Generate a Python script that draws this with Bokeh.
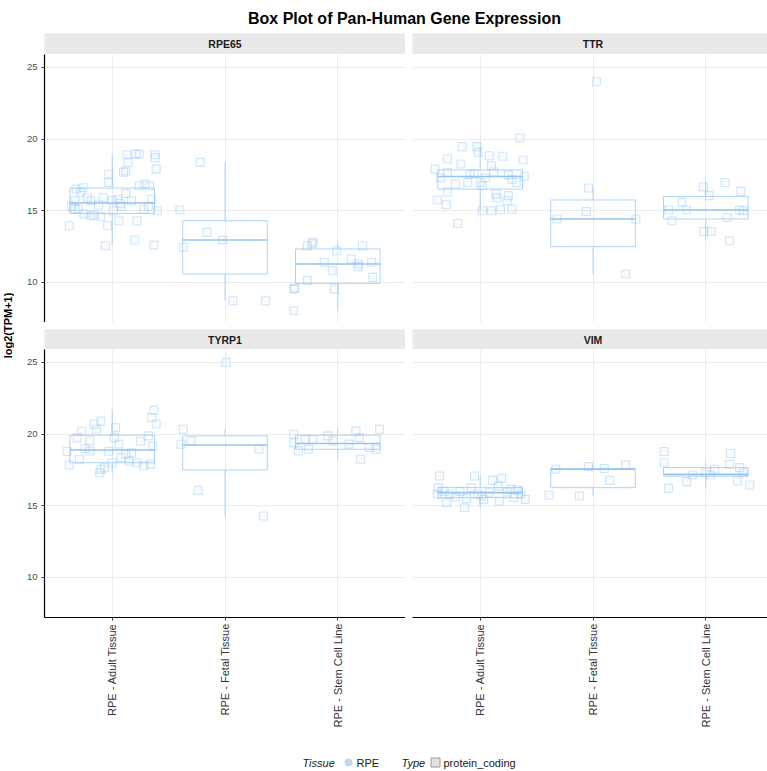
import numpy as np
from bokeh.plotting import figure
from bokeh.layouts import column, row
from bokeh.models import Range1d, LinearAxis, Grid, FixedTicker, Spacer, ColumnDataSource
from bokeh.embed import file_html
from bokeh.resources import INLINE
from bokeh.core.properties import value

# ---------------- data ----------------
title_text = "Box Plot of Pan-Human Gene Expression"
y_label = "log2(TPM+1)"
genes = ["RPE65", "TTR", "TYRP1", "VIM"]
tissues = ["RPE - Adult Tissue", "RPE - Fetal Tissue", "RPE - Stem Cell Line"]
y_ticks = [10, 15, 20, 25]
legend_tissue = ["Tissue", "RPE"]
legend_type = ["Type", "protein_coding"]

# box statistics per gene, order = tissues
RPE65_q1 = [14.81, 10.58, 9.93]
RPE65_med = [15.54, 12.96, 11.28]
RPE65_q3 = [16.58, 14.30, 12.33]
RPE65_lo = [12.60, 8.72, 8.02]
RPE65_hi = [18.95, 18.37, 12.80]

TTR_q1 = [16.51, 12.49, 14.42]
TTR_med = [17.39, 14.42, 15.05]
TTR_q3 = [17.84, 15.75, 16.00]
TTR_lo = [15.00, 10.58, 12.90]
TTR_hi = [19.47, 16.58, 16.97]

TYRP1_q1 = [18.00, 17.49, 18.94]
TYRP1_med = [18.89, 19.24, 19.34]
TYRP1_q3 = [19.92, 19.87, 19.92]
TYRP1_lo = [17.30, 14.28, 18.24]
TYRP1_hi = [21.70, 20.34, 20.34]

VIM_q1 = [15.56, 16.26, 17.07]
VIM_med = [15.91, 17.54, 17.19]
VIM_q3 = [16.26, 17.59, 17.66]
VIM_lo = [14.86, 15.68, 16.21]
VIM_hi = [17.07, 17.84, 18.00]

# individual samples (value) and their horizontal jitter
RPE65_adult = [13.95, 16.51, 15.70, 15.12, 15.10, 15.30, 14.77, 15.70, 14.70, 14.60, 12.56, 13.95,
               17.56, 16.97, 15.70, 15.00, 15.80, 14.30, 15.30, 17.68, 18.37, 18.90, 18.95, 15.70,
               12.96, 14.30, 16.74, 15.30, 16.74, 15.80, 12.60, 18.90, 17.90, 18.70, 15.00, 15.90,
               15.40, 16.20, 15.10, 16.30, 15.50, 15.90, 18.95, 17.77, 16.86, 16.60, 14.65]
RPE65_adult_jit = [-0.38, -0.32, -0.33, -0.33, -0.30, -0.36, -0.25, -0.19, -0.16, -0.10, -0.06, -0.04,
                   -0.03, -0.03, 0.00, 0.01, 0.05, 0.06, 0.08, 0.10, 0.14, 0.13, 0.21, 0.17,
                   0.20, 0.22, 0.24, 0.32, 0.33, 0.35, 0.37, 0.38, 0.39, 0.38, 0.40, -0.22,
                   -0.12, 0.12, 0.28, -0.28, 0.07, -0.08, 0.24, 0.12, 0.29, -0.26, -0.19]
RPE65_fetal = [18.37, 15.05, 13.49, 12.96, 12.44, 8.72, 8.72]
RPE65_fetal_jit = [-0.22, -0.40, -0.16, -0.02, -0.37, 0.07, 0.36]
RPE65_stem = [8.02, 9.53, 9.60, 10.12, 12.56, 12.70, 12.80, 11.40, 10.81, 9.53, 12.21, 11.63,
              11.28, 12.56, 11.40, 10.35, 11.10]
RPE65_stem_jit = [-0.39, -0.39, -0.38, -0.27, -0.27, -0.23, -0.22, -0.12, -0.05, -0.03, -0.01, 0.12,
                  0.18, 0.22, 0.30, 0.31, 0.18]

TTR_adult = [20.07, 19.47, 19.47, 19.07, 18.84, 18.80, 18.61, 18.26, 18.54, 17.90, 18.14, 17.67,
             17.56, 16.97, 16.74, 16.86, 16.16, 15.90, 15.75, 15.42, 16.30, 15.00, 15.00, 15.05,
             14.11, 16.97, 17.40, 16.97, 17.30, 17.60, 17.50, 17.30, 17.70, 17.20, 16.05, 15.70, 15.12]
TTR_adult_jit = [0.35, -0.16, -0.03, -0.02, 0.08, 0.20, -0.29, -0.17, 0.38, -0.40, 0.10, -0.29,
                 -0.09, 0.00, 0.02, -0.22, 0.14, 0.15, -0.38, -0.30, -0.29, 0.02, 0.10, 0.18,
                 -0.20, 0.32, 0.39, -0.11, 0.05, -0.05, 0.25, -0.35, 0.12, 0.28, 0.25, 0.24, 0.28]
TTR_fetal = [24.00, 16.58, 14.95, 14.42, 14.42, 10.58]
TTR_fetal_jit = [0.03, -0.04, -0.06, -0.32, 0.38, 0.29]
TTR_stem = [16.97, 16.67, 16.05, 16.35, 15.05, 15.58, 15.05, 14.30, 14.53, 15.05, 15.00, 13.55,
            13.55, 12.90]
TTR_stem_jit = [0.17, -0.02, 0.03, 0.31, -0.33, -0.21, -0.17, -0.30, 0.19, 0.30, 0.33, -0.02,
                0.05, 0.21]

TYRP1_adult = [21.67, 21.15, 20.70, 20.69, 20.34, 20.20, 20.45, 17.85, 17.54, 17.30, 17.65, 18.78,
               18.82, 18.36, 18.60, 18.00, 17.77, 17.90, 19.17, 19.87, 19.75, 18.80, 19.52, 19.75,
               19.30, 18.70, 18.24, 18.00, 20.90, 19.50, 19.00, 18.10]
TYRP1_adult_jit = [0.37, 0.35, 0.39, -0.16, -0.14, -0.27, 0.03, -0.38, -0.10, -0.11, -0.07, -0.40,
                   -0.20, 0.08, 0.12, 0.22, 0.28, 0.34, 0.36, 0.32, 0.02, -0.03, -0.20, -0.31,
                   0.06, 0.17, -0.29, 0.00, -0.10, 0.25, -0.24, 0.15]
TYRP1_fetal = [25.00, 20.34, 19.29, 19.52, 16.07, 18.94, 14.28]
TYRP1_fetal_jit = [0.01, -0.37, -0.39, -0.30, -0.24, 0.30, 0.34]
TYRP1_stem = [19.99, 19.40, 18.82, 18.94, 19.64, 19.60, 19.87, 19.52, 20.22, 19.75, 18.24, 19.06,
              18.94, 20.34, 19.30]
TYRP1_stem_jit = [-0.39, -0.39, -0.35, -0.26, -0.29, -0.22, -0.09, -0.04, 0.16, 0.19, 0.20, 0.28,
                  0.34, 0.37, 0.10]

VIM_adult = [17.07, 17.07, 16.77, 16.91, 14.86, 16.26, 15.80, 16.26, 16.37, 16.14, 15.80, 15.44,
             15.68, 15.44, 15.33, 15.21, 16.00, 15.80, 15.56, 15.60, 15.90, 15.50, 15.95, 16.00,
             16.10, 15.80]
VIM_adult_jit = [-0.36, -0.05, 0.11, 0.19, -0.14, -0.37, -0.27, -0.08, 0.16, 0.27, 0.36, 0.40,
                 0.01, 0.03, 0.17, -0.30, -0.18, -0.38, 0.30, -0.22, 0.08, -0.12, 0.24, -0.32,
                 0.33, -0.02]
VIM_fetal = [17.54, 17.73, 17.84, 16.77, 15.75, 15.68, 17.60]
VIM_fetal_jit = [-0.33, -0.04, 0.29, 0.15, -0.39, -0.12, 0.10]
VIM_stem = [18.78, 18.00, 18.64, 17.89, 17.66, 16.68, 16.21, 16.72, 16.45, 17.14, 17.30, 17.14,
            17.54, 17.30]
VIM_stem_jit = [-0.37, -0.37, 0.22, 0.21, 0.30, -0.17, -0.33, 0.28, 0.39, 0.04, 0.00, -0.12,
                0.08, 0.33]

# ---------------- style / layout ----------------
FONT = "Liberation Sans"
PW_L, PW_R, PH = 361, 355, 268   # panel frame sizes
UNIT = PW_L / 3.2                # pixels per category unit
LB = 30                          # left axis border
BB = 118                         # bottom axis border
GAP = 7
STRIP_H = [21, 20]
YLAB_W = 14
TOTAL_W = YLAB_W + LB + PW_L + GAP + PW_R
YMIN, YMAX = 7.2, 25.9
GRID = "#ebebeb"
STRIP_BG = "#e9e9e9"
BOX = "#aed3f6"
MED = "#94c5f1"
PT = "#8ec4f5"


def base_fig(**kw):
    kw.setdefault("toolbar_location", None)
    kw.setdefault("output_backend", "svg")
    kw.setdefault("x_axis_location", None)
    kw.setdefault("y_axis_location", None)
    kw.setdefault("outline_line_color", None)
    kw.setdefault("min_border", 0)
    p = figure(**kw)
    p.center = [c for c in p.center if not isinstance(c, Grid)]
    return p


def make_panel(q1, med, q3, lo, hi, vals, jits, left, bottom, pw):
    p = base_fig(frame_width=pw, frame_height=PH,
                 x_range=Range1d(-0.6, -0.6 + pw / UNIT), y_range=Range1d(YMIN, YMAX),
                 min_border_left=LB if left else 0,
                 min_border_bottom=BB if bottom else 0,
                 background_fill_color="white", border_fill_color="white")
    p.add_layout(Grid(dimension=0, ticker=FixedTicker(ticks=[0, 1, 2]),
                      grid_line_color=GRID, grid_line_width=1))
    p.add_layout(Grid(dimension=1, ticker=FixedTicker(ticks=y_ticks),
                      grid_line_color=GRID, grid_line_width=1))
    idx = np.arange(len(tissues), dtype=float)
    bw = 0.75
    src = ColumnDataSource(dict(x=idx, x0=idx - bw / 2, x1=idx + bw / 2,
                                q1=q1, med=med, q3=q3, lo=lo, hi=hi))
    p.segment(x0="x", y0="q3", x1="x", y1="hi", source=src, line_color=BOX, line_width=1)
    p.segment(x0="x", y0="q1", x1="x", y1="lo", source=src, line_color=BOX, line_width=1)
    p.vbar(x="x", width=bw, bottom="q1", top="q3", source=src,
           fill_color="white", fill_alpha=0.0, line_color=BOX, line_width=1)
    p.segment(x0="x0", y0="med", x1="x1", y1="med", source=src, line_color=MED, line_width=1.6)
    xs, ys = [], []
    for i, (v, j) in enumerate(zip(vals, jits)):
        xs.extend([i + jj for jj in j])
        ys.extend(v)
    p.scatter(x=xs, y=ys, marker="square", size=8, fill_color=PT, fill_alpha=0.05,
              line_color=PT, line_alpha=0.42, line_width=1.1)
    if left:
        ax = LinearAxis(ticker=FixedTicker(ticks=y_ticks))
        ax.axis_line_color = "black"
        ax.axis_line_width = 1.2
        ax.major_tick_line_color = "#333333"
        ax.major_tick_out = 3
        ax.major_tick_in = 0
        ax.minor_tick_line_color = None
        ax.major_label_text_font = FONT
        ax.major_label_text_font_size = "9.5px"
        ax.major_label_text_color = "#4d4d4d"
        ax.major_label_standoff = 4
        p.add_layout(ax, "left")
    if bottom:
        ax = LinearAxis(ticker=FixedTicker(ticks=[0, 1, 2]),
                        major_label_overrides={i: t for i, t in enumerate(tissues)})
        ax.axis_line_color = "black"
        ax.axis_line_width = 1.2
        ax.major_tick_line_color = "#333333"
        ax.major_tick_out = 3
        ax.major_tick_in = 0
        ax.minor_tick_line_color = None
        ax.major_label_orientation = np.pi / 2
        ax.major_label_text_font = FONT
        ax.major_label_text_font_size = "11px"
        ax.major_label_text_color = "#333333"
        ax.major_label_standoff = 3
        p.add_layout(ax, "below")
    return p


def make_strip(label, w, h):
    p = base_fig(width=w, height=h, x_range=Range1d(0, w), y_range=Range1d(0, 1),
                 background_fill_color=STRIP_BG, border_fill_color=STRIP_BG)
    p.text(x=[PW_L / 2], y=[0.5], text=[label], text_font=value(FONT), text_font_style="bold",
           text_font_size="10.5px", text_color="#1a1a1a", text_align="center",
           text_baseline="middle")
    return p


panels = {
    "RPE65": make_panel(RPE65_q1, RPE65_med, RPE65_q3, RPE65_lo, RPE65_hi,
                        [RPE65_adult, RPE65_fetal, RPE65_stem],
                        [RPE65_adult_jit, RPE65_fetal_jit, RPE65_stem_jit], True, False, PW_L),
    "TTR": make_panel(TTR_q1, TTR_med, TTR_q3, TTR_lo, TTR_hi,
                      [TTR_adult, TTR_fetal, TTR_stem],
                      [TTR_adult_jit, TTR_fetal_jit, TTR_stem_jit], False, False, PW_R),
    "TYRP1": make_panel(TYRP1_q1, TYRP1_med, TYRP1_q3, TYRP1_lo, TYRP1_hi,
                        [TYRP1_adult, TYRP1_fetal, TYRP1_stem],
                        [TYRP1_adult_jit, TYRP1_fetal_jit, TYRP1_stem_jit], True, True, PW_L),
    "VIM": make_panel(VIM_q1, VIM_med, VIM_q3, VIM_lo, VIM_hi,
                      [VIM_adult, VIM_fetal, VIM_stem],
                      [VIM_adult_jit, VIM_fetal_jit, VIM_stem_jit], False, True, PW_R),
}

# header with title
HEADER_H = 33
header = base_fig(width=TOTAL_W, height=HEADER_H, x_range=Range1d(0, TOTAL_W),
                  y_range=Range1d(0, HEADER_H))
header.text(x=[404], y=[HEADER_H - 18], text=[title_text],
            text_font=value(FONT), text_font_style="bold", text_font_size="16px",
            text_color="black", text_align="center", text_baseline="middle")

top_strips = row(Spacer(width=LB, height=STRIP_H[0]), make_strip(genes[0], PW_L, STRIP_H[0]),
                 Spacer(width=GAP, height=STRIP_H[0]), make_strip(genes[1], PW_R, STRIP_H[0]))
top_panels = row(panels["RPE65"], Spacer(width=GAP, height=PH), panels["TTR"])
bot_strips = row(Spacer(width=LB, height=STRIP_H[1]), make_strip(genes[2], PW_L, STRIP_H[1]),
                 Spacer(width=GAP, height=STRIP_H[1]), make_strip(genes[3], PW_R, STRIP_H[1]))
bot_panels = row(panels["TYRP1"], Spacer(width=GAP, height=PH + BB), panels["VIM"])
main = column(top_strips, top_panels, Spacer(width=LB + PW_L + GAP + PW_R, height=GAP),
              bot_strips, bot_panels)

MAIN_H = STRIP_H[0] + PH + GAP + STRIP_H[1] + PH + BB
ylab = base_fig(width=YLAB_W, height=MAIN_H, x_range=Range1d(0, YLAB_W),
                y_range=Range1d(0, MAIN_H))
ylab.text(x=[YLAB_W / 2], y=[MAIN_H - 292], text=[y_label], angle=np.pi / 2,
          text_font=value(FONT), text_font_style="bold", text_font_size="11px",
          text_color="black", text_align="center", text_baseline="middle")

# legend strip
LEG_H = 770 - HEADER_H - MAIN_H
leg = base_fig(width=TOTAL_W, height=LEG_H, x_range=Range1d(0, TOTAL_W), y_range=Range1d(0, LEG_H))
ly = LEG_H - (762 - HEADER_H - MAIN_H)
leg.text(x=[302], y=[ly], text=[legend_tissue[0]], text_font=value(FONT), text_font_style="italic",
         text_font_size="11px", text_color="#1a1a1a", text_align="left", text_baseline="middle")
leg.scatter(x=[348], y=[ly], marker="circle", size=7, fill_color=BOX, line_color=BOX, fill_alpha=0.8)
leg.text(x=[356], y=[ly], text=[legend_tissue[1]], text_font=value(FONT),
         text_font_size="11px", text_color="#1a1a1a", text_align="left", text_baseline="middle")
leg.text(x=[401], y=[ly], text=[legend_type[0]], text_font=value(FONT), text_font_style="italic",
         text_font_size="11px", text_color="#1a1a1a", text_align="left", text_baseline="middle")
leg.scatter(x=[435], y=[ly], marker="square", size=9, fill_color="#e3e3e3", line_color="#9a9a9a",
            line_width=1)
leg.text(x=[443], y=[ly], text=[legend_type[1]], text_font=value(FONT),
         text_font_size="11px", text_color="#1a1a1a", text_align="left", text_baseline="middle")

layout = column(header, row(ylab, main), leg)

with open("out.html", "w") as f:
    f.write(file_html(layout, INLINE))
